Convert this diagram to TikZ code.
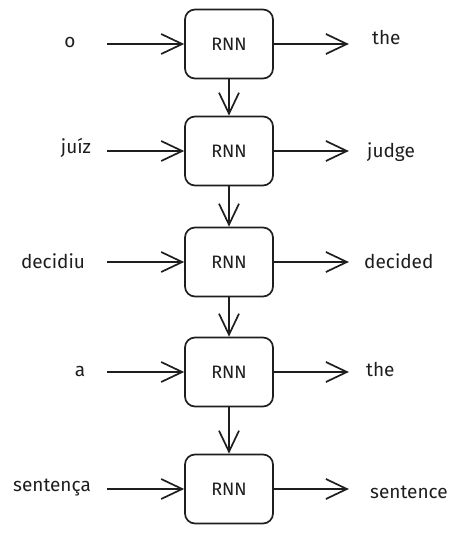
\documentclass[tikz,border=0pt]{standalone}
\usepackage{fontspec}
\setmainfont{Fira Sans}
\usetikzlibrary{arrows.meta,positioning}
\definecolor{rnink}{HTML}{1E1E1E}
\tikzset{
  rnn/.style={draw=rnink,line width=1.7pt,rounded corners=10pt,fill=white,
              minimum width=88pt,minimum height=69pt,inner sep=2pt,
              font=\fontsize{18}{20}\selectfont,text=rnink},
  word/.style={font=\fontsize{19}{22}\selectfont,text=rnink,inner sep=0pt},
  flow/.style={-{Straight Barb[length=21pt,width=20pt,line width=1.7pt]},
               line width=1.7pt,draw=rnink},
}

\begin{document}
\begin{tikzpicture}[x=1pt,y=-1pt]
  \useasboundingbox (0,0) rectangle (464,533);

  % ---- recurrent cells (top to bottom) ----
  \node[rnn] (rnn1) at (229,44)  {RNN};
  \node[rnn] (rnn2) at (229,151) {RNN};
  \node[rnn] (rnn3) at (229,262) {RNN};
  \node[rnn] (rnn4) at (229,372) {RNN};
  \node[rnn] (rnn5) at (229,489) {RNN};

  % ---- source words ----
  \node[word] (in1) at (70,42)  {o};
  \node[word] (in2) at (76,148) {juíz};
  \node[word] (in3) at (53,261) {decidiu};
  \node[word] (in4) at (80,371) {a};
  \node[word] (in5) at (52,488) {sentença};

  % ---- target words ----
  \node[word,anchor=west] (out1) at (372,38)  {the};
  \node[word,anchor=west] (out2) at (367,152) {judge};
  \node[word,anchor=west] (out3) at (364,261) {decided};
  \node[word,anchor=west] (out4) at (366,370) {the};
  \node[word,anchor=west] (out5) at (370,492) {sentence};

  % ---- connectors ----
  \foreach \i in {1,...,5}{
    \coordinate (src\i) at ([xshift=-77pt]rnn\i.west);
    \coordinate (dst\i) at ([xshift=75pt]rnn\i.east);
    \draw[flow] (src\i) -- (rnn\i.west);
    \draw[flow] (rnn\i.east) -- (dst\i);}
  \foreach \i/\j in {1/2,2/3,3/4,4/5}{
    \draw[flow] (rnn\i) -- (rnn\j);}
\end{tikzpicture}
\end{document}
